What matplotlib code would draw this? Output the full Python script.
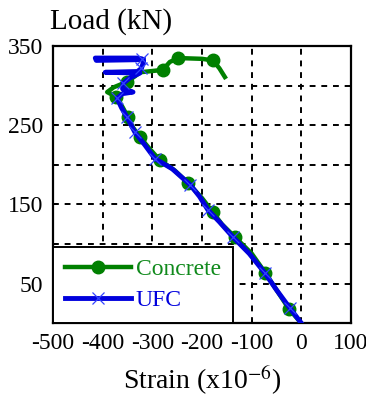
import numpy as np
import matplotlib
matplotlib.use("Agg")
import matplotlib.pyplot as plt

plt.rcParams['font.family'] = ['Liberation Serif', 'DejaVu Serif']
plt.rcParams['mathtext.fontset'] = 'stix'
plt.rcParams['axes.unicode_minus'] = False

# Concrete strain gauge (x10^-6) vs load (kN)
concrete_strain = [0, -25, -50, -73, -100, -134, -160, -178, -200, -228, -255, -285,
                   -305, -325, -340, -349, -360, -373, -391, -378, -351, -335, -325,
                   -279, -265, -248, -200, -178, -165, -154]
concrete_load = [0, 18, 42, 64, 88, 109, 125, 140, 158, 177, 193, 206,
                 220, 235, 248, 260, 273, 286, 292, 298, 305, 312, 317,
                 320, 330, 335, 334, 332, 322, 311]
concrete_marks = [1, 3, 5, 7, 9, 11, 13, 15, 17, 20, 23, 25, 27]

# UFC strain gauge
ufc_strain = [0, -23, -50, -73, -105, -138, -165, -188, -205, -224, -260, -295,
              -315, -335, -351, -362, -371, -360, -339, -360, -359, -345, -325,
              -395, -330, -322, -318, -321, -330, -415, -413, -318]
ufc_load = [0, 19, 42, 63, 88, 109, 128, 143, 160, 175, 195, 208,
            225, 241, 260, 272, 284, 290, 292, 296, 303, 310, 316,
            317, 318, 322, 330, 334, 335, 335, 332, 333]
ufc_marks = [1, 3, 5, 7, 9, 11, 13, 14, 16, 20, 25, 27]

green = '#008000'
blue = '#0000dd'

fig = plt.figure(figsize=(3.66, 3.98), dpi=100)
ax = fig.add_axes([0.145, 0.188, 0.814, 0.696])

ax.plot(concrete_strain, concrete_load, color=green, lw=3.2, marker='o', ms=9,
        markevery=concrete_marks, label='Concrete', zorder=3)
ax.plot(ufc_strain, ufc_load, color=blue, lw=3.5, marker='x', ms=9, mew=0.9,
        mec='#3344ff', markevery=ufc_marks, label='UFC', zorder=4)

ax.set_xlim(-500, 100)
ax.set_ylim(0, 350)
ax.set_xticks(np.arange(-500, 101, 100))
ax.set_yticks(np.arange(0, 351, 50))
ax.set_yticklabels(['', '50', '', '150', '', '250', '', '350'])
ax.tick_params(labelsize=17, direction='in', length=3, width=1.2, pad=7)
ax.grid(True, color='black', ls=(0, (3, 3)), lw=1.4)
for s in ax.spines.values():
    s.set_linewidth(1.6)

ax.set_xlabel('Strain (x10$^{\\mathrm{-6}}$)', fontsize=20, labelpad=7)
fig.text(0.137, 0.945, 'Load (kN)', fontsize=21, ha='left', va='center')

leg = ax.legend(loc='lower left', bbox_to_anchor=(0, 0), borderaxespad=0,
                fontsize=17, handlelength=2.8, handletextpad=0.2, fancybox=False,
                framealpha=1, edgecolor='black', borderpad=0.5, labelspacing=0.4)
leg.get_frame().set_linewidth(1.4)
leg.set_zorder(5)
for txt, c in zip(leg.get_texts(), ['#108a1c', blue]):
    txt.set_color(c)

fig.savefig('out.png', dpi=100)
